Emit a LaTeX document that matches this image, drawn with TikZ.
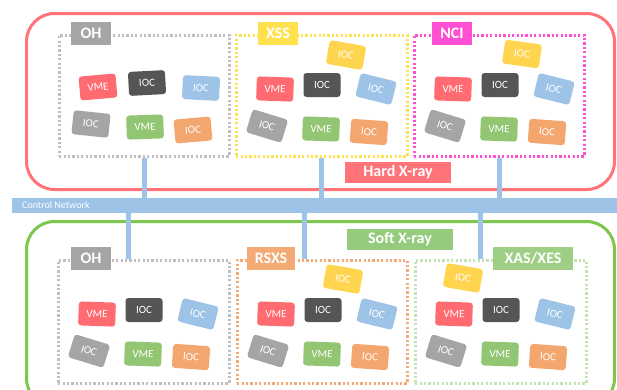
\documentclass[tikz,border=0pt]{standalone}
\usepackage{fontspec}
\setmainfont{Carlito}
\usetikzlibrary{positioning, calc}
\definecolor{hardRed}{HTML}{FF7379}
\definecolor{softGreen}{HTML}{7DC84C}
\definecolor{netBlue}{HTML}{9DC3E6}
\definecolor{chipRed}{HTML}{FF6B70}
\definecolor{chipDark}{HTML}{555555}
\definecolor{chipBlue}{HTML}{9DC3E6}
\definecolor{chipGray}{HTML}{A5A5A5}
\definecolor{chipGreen}{HTML}{93C672}
\definecolor{chipOrange}{HTML}{F4A66F}
\definecolor{chipYellow}{HTML}{FFD54F}
\definecolor{ohGray}{HTML}{BFBFBF}
\definecolor{tagGray}{HTML}{A5A5A5}
\definecolor{xssYellow}{HTML}{FFE04D}
\definecolor{nciPink}{HTML}{FF4FD3}
\definecolor{rsxsOrange}{HTML}{F4AA74}
\definecolor{xasGreen}{HTML}{C5E3B0}
\definecolor{xasTag}{HTML}{9FCF84}
\definecolor{softTag}{HTML}{95CB7C}

% chip positions inside one area, relative to its north west corner
\def\ohLayout{40/53/5/chipRed/VME, 89/49/3/chipDark/IOC, 143/54/-3/chipBlue/IOC,
  33/90/-6/chipGray/IOC, 87/93/2/chipGreen/VME, 135/96/5/chipOrange/IOC}
\def\stdLayout{40/55/-2/chipRed/VME, 87/51/0/chipDark/IOC, 141/55/-14/chipBlue/IOC,
  32/92/-17/chipGray/IOC, 86/95/-2/chipGreen/VME, 134/98/-4/chipOrange/IOC}
\newcommand{\chipset}[2]{%
  \foreach \dx/\dy/\rot/\col/\txt [count=\i] in #2
    \node[chip, fill=\col, rotate=\rot] (#1c\i) at ($(#1.north west)+(\dx,\dy)$) {\txt};}

\begin{document}
\begin{tikzpicture}[x=1pt, y=-1pt,
    hutch/.style={draw, line width=3pt, rounded corners=28pt, anchor=north west,
                  inner sep=0pt},
    area/.style={draw, line width=2.5pt, dash pattern=on 2.2pt off 2.2pt, anchor=north west,
                 minimum width=170pt, minimum height=121pt, inner sep=0pt},
    tag/.style={text=white, font=\fontsize{16}{16}\selectfont\bfseries,
                minimum width=40pt, minimum height=23pt, inner sep=2pt},
    chip/.style={rounded corners=3pt, minimum width=37pt, minimum height=24pt,
                 inner sep=0pt, text=white, font=\fontsize{11}{11}\selectfont},
    link/.style={draw=netBlue, line width=5pt}]
  \clip (0,0) rectangle (617,389);
  \fill[white] (0,0) rectangle (617,389);

  % hutches
  \node[hutch, draw=hardRed, minimum width=588pt, minimum height=176pt] (hard) at (25,12) {};
  \node[hutch, draw=softGreen, minimum width=588pt, minimum height=185pt] (soft) at (25,220) {};

  % network
  \node[fill=netBlue, anchor=north west, minimum width=605pt, minimum height=15pt,
        inner sep=0pt] (net) at (12,198) {};
  \node[anchor=west, text=white, font=\fontsize{10}{10}\selectfont, inner sep=0pt]
        (netlbl) at (22,205.5) {Control Network};

  % beamline areas
  \node[area, draw=ohGray] (ohH) at (58,34) {};
  \node[area, draw=xssYellow, minimum width=171pt] (xss) at (235,34) {};
  \node[area, draw=nciPink] (nci) at (413,34) {};
  \node[area, draw=ohGray, minimum width=171pt, minimum height=123pt] (ohS) at (57,259) {};
  \node[area, draw=rsxsOrange, minimum height=123pt] (rsxs) at (236,259) {};
  \node[area, draw=xasGreen, minimum width=171pt, minimum height=123pt] (xas) at (414,259) {};

  % links to the network
  \draw[link] (ohH.south) -- (ohH.south |- net.north);
  \draw[link] (xss.south) -- (xss.south |- net.north);
  \draw[link] (nci.south) -- (nci.south |- net.north);
  \draw[link] ([xshift=-15pt]ohS.north) -- ([xshift=-15pt]ohS.north |- net.south);
  \draw[link] ([xshift=-18pt]rsxs.north) -- ([xshift=-18pt]rsxs.north |- net.south);
  \draw[link] ([xshift=-20pt]xas.north) -- ([xshift=-20pt]xas.north |- net.south);

  % tags
  \node[tag, fill=tagGray] (ohHtag) at (91,33.5) {OH};
  \node[tag, fill=xssYellow] (xsstag) at (278,33.5) {XSS};
  \node[tag, fill=nciPink] (ncitag) at (452,33.5) {NCI};
  \node[tag, fill=hardRed, minimum width=106pt, minimum height=21pt] (hardtag) at (398,172.5) {Hard X-ray};
  \node[tag, fill=softTag, minimum width=106pt, minimum height=21pt] (softtag) at (400,239.5) {Soft X-ray};
  \node[tag, fill=tagGray] (ohStag) at (91,258.5) {OH};
  \node[tag, fill=rsxsOrange, minimum width=48pt] (rsxstag) at (271,258.5) {RSXS};
  \node[tag, fill=xasTag, minimum width=80pt] (xastag) at (533,258.5) {XAS/XES};

  % devices
  \chipset{ohH}{\ohLayout}
  \chipset{xss}{\stdLayout}
  \chipset{nci}{\stdLayout}
  \chipset{ohS}{\stdLayout}
  \chipset{rsxs}{\stdLayout}
  \chipset{xas}{\stdLayout}
  \node[chip, fill=chipYellow, rotate=-10] (xssc7) at ($(xss.north west)+(111,21)$) {IOC};
  \node[chip, fill=chipYellow, rotate=-8] (ncic7) at ($(nci.north west)+(109,20)$) {IOC};
  \node[chip, fill=chipYellow, rotate=-10] (rsxsc7) at ($(rsxs.north west)+(107,20)$) {IOC};
  \node[chip, fill=chipYellow, rotate=-10] (xasc7) at ($(xas.north west)+(49,19)$) {IOC};
\end{tikzpicture}
\end{document}
